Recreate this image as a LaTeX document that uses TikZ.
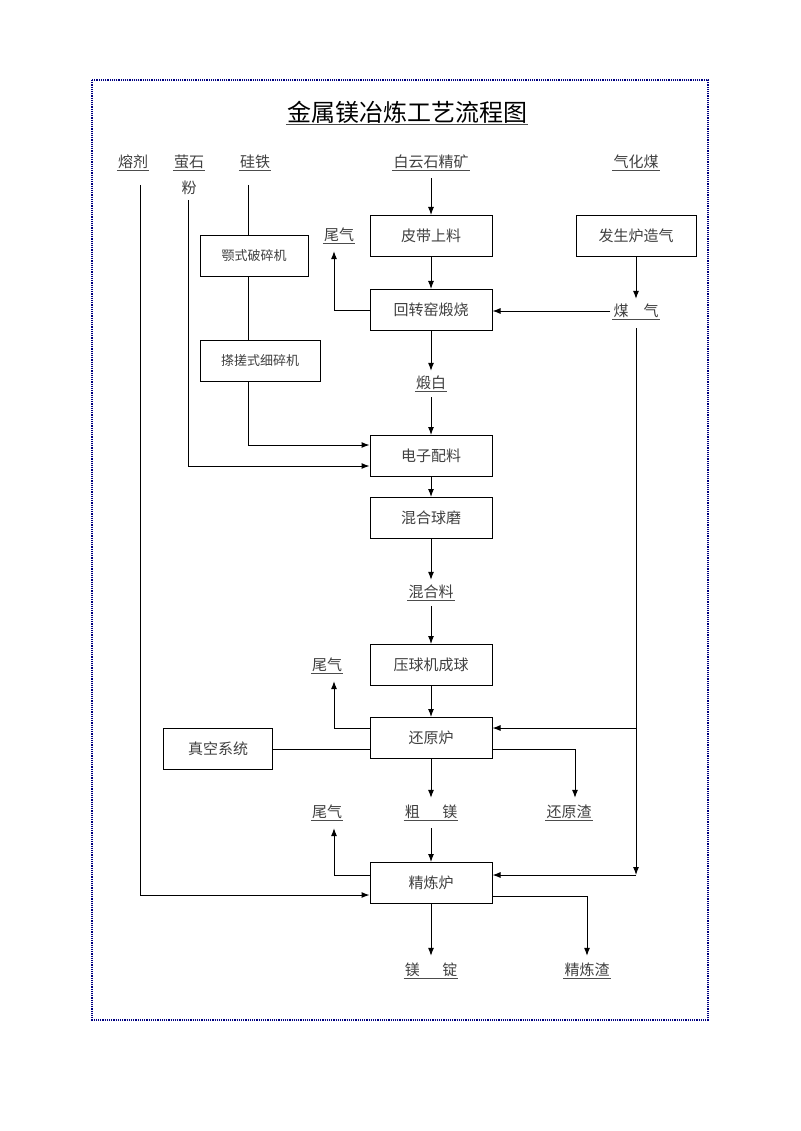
\documentclass[tikz,border=0pt]{standalone}
\usepackage{fontspec}
\newfontfamily\cjk{Noto Sans CJK SC}
\usetikzlibrary{arrows.meta,calc}
\begin{document}
\begin{tikzpicture}[x=1pt,y=-1pt,
  box/.style={draw,line width=1pt,minimum height=41pt,inner sep=0pt,font=\cjk\fontsize{15}{15}\selectfont,text=black!75},
  main/.style={box,minimum width=122pt},
  lab/.style={font=\cjk\fontsize{15}{15}\selectfont,text=black!75,inner sep=1pt},
  ul/.style={lab,append after command={(\tikzlastnode.south west) edge[draw=black!70,line width=0.7pt] (\tikzlastnode.south east)}},
  ar/.style={-{Latex[length=8pt,width=6pt]},line width=1pt},
  ln/.style={line width=1pt}]
\useasboundingbox (0,0) rectangle (800,1131);
\fill[white] (0,0) rectangle (800,1131);
\draw[blue!50!black,densely dotted,line width=1.2pt] (92,80) rectangle (708,1020);
\node[ul,font=\cjk\fontsize{24}{24}\selectfont,text=black] (title) at (407,112) {金属镁冶炼工艺流程图};
% top labels
\node[ul] (rj) at (133,162) {熔剂};
\node[ul] (ys) at (189,162) {萤石};
\node[lab] (fen) at (189,188) {粉};
\node[ul] (gt) at (255,162) {硅铁};
\node[ul] (by) at (431,162) {白云石精矿};
\node[ul] (qhm) at (636,162) {气化煤};
% boxes
\node[main] (pd) at (431,236) {皮带上料};
\node[main] (hz) at (431,310) {回转窑煅烧};
\node[main] (dz) at (431,456) {电子配料};
\node[main] (hq) at (431,518) {混合球磨};
\node[main] (yq) at (431,665) {压球机成球};
\node[main] (hy) at (431,738) {还原炉};
\node[main] (jl) at (431,883) {精炼炉};
\node[box,minimum width=120pt] (fs) at (636,236) {发生炉造气};
\node[box,minimum width=108pt,font=\cjk\fontsize{13}{13}\selectfont] (ep) at (254,256) {颚式破碎机};
\node[box,minimum width=120pt,font=\cjk\fontsize{13}{13}\selectfont] (xs) at (260,361) {搽搓式细碎机};
\node[box,minimum width=109pt] (zk) at (218,749) {真空系统};
% mid labels
\node[ul] (wq1) at (339,235) {尾气};
\node[ul] (mq) at (636,311) {煤\hspace{1em}气};
\node[ul] (db) at (431,383) {煅白};
\node[ul] (hhl) at (431,592) {混合料};
\node[ul] (wq2) at (327,665) {尾气};
\node[ul] (cm) at (431,812) {粗\hspace{1.5em}镁};
\node[ul] (wq3) at (327,812) {尾气};
\node[ul] (hyz) at (569,812) {还原渣};
\node[ul] (md) at (431,970) {镁\hspace{1.5em}锭};
\node[ul] (jlz) at (587,970) {精炼渣};
% coordinates
\coordinate (rjtop) at (140,185);
\coordinate (ystop) at (188,200);
\coordinate (gttop) at (248,185);
\coordinate (mqtop) at (636,328);
\coordinate (mqbot) at (636,875);
% central chain
\draw[ar] ($(by.south)+(0,8)$) -- (pd.north);
\draw[ar] (pd) -- (hz);
\draw[ar] (hz.south) -- ($(db.north)+(0,-4)$);
\draw[ar] ($(db.south)+(0,6)$) -- (dz.north);
\draw[ar] (dz) -- (hq);
\draw[ar] (hq.south) -- ($(hhl.north)+(0,-4)$);
\draw[ar] ($(hhl.south)+(0,6)$) -- (yq.north);
\draw[ar] (yq) -- (hy);
\draw[ar] (hy.south) -- ($(cm.north)+(0,-6)$);
\draw[ar] ($(cm.south)+(0,8)$) -- (jl.north);
\draw[ar] (jl.south) -- ($(md.north)+(0,-6)$);
% gas side
\draw[ar] (fs.south) -- ($(mq.north)+(0,-4)$);
\draw[ar] ($(mq.west)+(-2,0)$) -- (hz.east |- mq.west);
\draw[ar] (mqtop) -- (mqbot);
\draw[ar] (636,728) -- (hy.east |- 0,728);
\draw[ar] (mqbot) -- (jl.east |- 0,875);
% exhaust
\draw[ar] (hz.west) -| ($(wq1.south)+(-5,8)$);
\draw[ar] (hy.west |- 0,728) -| ($(wq2.south)+(7,8)$);
\draw[ar] (jl.west |- 0,875) -| ($(wq3.south)+(7,8)$);
% slag
\draw[ar] (hy.east |- 0,749) -| ($(hyz.north)+(6,-6)$);
\draw[ar] (jl.east |- 0,896) -| ($(jlz.north)+(0,-6)$);
\draw[ln] (zk.east) -- (hy.west |- zk.east);
% left inputs
\draw[ar] (rjtop) |- (jl.west |- 0,895);
\draw[ar] (ystop) |- (dz.west |- 0,466);
\draw[ln] (gttop) -- (ep.north -| gttop);
\draw[ln] (ep.south -| gttop) -- (xs.north -| gttop);
\draw[ar] (xs.south -| gttop) |- (dz.west |- 0,445);
\end{tikzpicture}
\end{document}
